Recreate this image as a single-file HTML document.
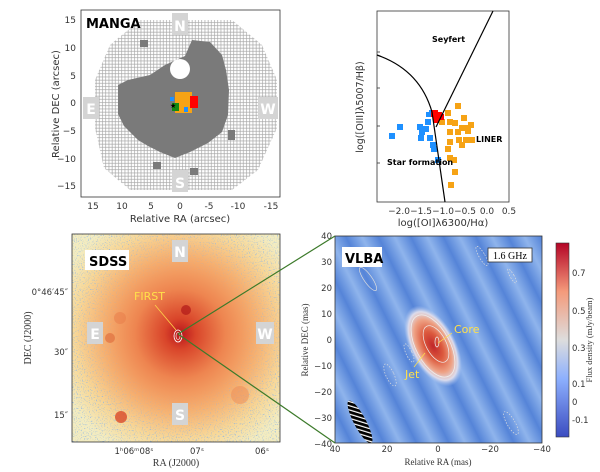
<!DOCTYPE html>
<html><head><meta charset="utf-8"><style>
body{margin:0;background:#fff;width:600px;height:472px;overflow:hidden}
svg{display:block}
text{font-family:"DejaVu Sans","Liberation Sans",sans-serif}
.serif{font-family:"Liberation Serif",serif}
</style></head><body>
<svg width="600" height="472" viewBox="0 0 600 472" xmlns="http://www.w3.org/2000/svg">
<defs>
<pattern id="grid" width="3.2" height="3.2" patternUnits="userSpaceOnUse">
<rect width="3.2" height="3.2" fill="#a8a8a8"/><rect x="0.5" y="0.5" width="2.5" height="2.5" fill="#fff"/>
</pattern>
<radialGradient id="gal" cx="0.52" cy="0.48" r="0.62">
<stop offset="0" stop-color="#b8141c"/><stop offset="0.12" stop-color="#d9452a"/>
<stop offset="0.35" stop-color="#ee8550"/><stop offset="0.6" stop-color="#f6b070"/>
<stop offset="0.82" stop-color="#f8d898"/><stop offset="1" stop-color="#f3ecc0"/>
</radialGradient>
<radialGradient id="edgeMask" cx="0.52" cy="0.48" r="0.65">
<stop offset="0.45" stop-color="#000"/><stop offset="0.8" stop-color="#fff"/><stop offset="1" stop-color="#fff"/>
</radialGradient>
<mask id="m3"><rect x="72" y="234" width="208" height="208" fill="url(#edgeMask)"/></mask>
<filter id="noise" x="0" y="0" width="1" height="1"><feTurbulence type="fractalNoise" baseFrequency="0.85" numOctaves="1" seed="3"/>
<feColorMatrix values="0 0 0 0 0.25  0 0 0 0 0.45  0 0 0 0 0.8  0 0 0 5 -2.9"/></filter>
<linearGradient id="stripes" x1="0" y1="0" x2="1" y2="-0.5" spreadMethod="repeat" gradientUnits="userSpaceOnUse" gradientTransform="scale(26)">
<stop offset="0" stop-color="#5584d8"/><stop offset="0.5" stop-color="#8fb4ec"/><stop offset="1" stop-color="#5584d8"/>
</linearGradient>
<radialGradient id="core" cx="0.5" cy="0.5" r="0.5">
<stop offset="0" stop-color="#c0262a"/><stop offset="0.35" stop-color="#dc5a3e"/>
<stop offset="0.65" stop-color="#eea285"/><stop offset="0.85" stop-color="#dcdcec"/><stop offset="1" stop-color="#a8c3f0" stop-opacity="0"/>
</radialGradient>
<linearGradient id="cbar" x1="0" y1="1" x2="0" y2="0">
<stop offset="0" stop-color="#3b4cc0"/><stop offset="0.3" stop-color="#8db0fe"/><stop offset="0.5" stop-color="#dddddd"/>
<stop offset="0.75" stop-color="#f49a7b"/><stop offset="1" stop-color="#b40426"/>
</linearGradient>
<pattern id="hatch" width="4" height="4" patternUnits="userSpaceOnUse" patternTransform="rotate(-45)">
<rect width="4" height="4" fill="#000"/><rect width="1.2" height="4" fill="#fff"/></pattern>
<clipPath id="c4"><rect x="335" y="236" width="207" height="207"/></clipPath>
</defs>

<!-- Panel 1 MANGA -->
<rect x="81" y="10" width="199" height="187" fill="#fff" stroke="#333" stroke-width="0.8"/>
<polygon points="140,20 232,20 262,45 277,80 277,128 258,170 232,190 130,190 104,168 95,128 95,80 110,45" fill="url(#grid)"/>
<path d="M118,85 L128,80 150,75 165,65 185,56 192,40 210,42 222,55 226,70 229,90 228,115 222,132 208,143 190,152 175,158 160,152 148,146 138,140 124,126 118,114Z" fill="#7a7a7a"/>
<rect x="140" y="40" width="8" height="7" fill="#7a7a7a"/><rect x="153" y="162" width="8" height="7" fill="#7a7a7a"/>
<rect x="190" y="168" width="8" height="7" fill="#7a7a7a"/><rect x="228" y="130" width="7" height="10" fill="#7a7a7a"/>
<circle cx="180" cy="69" r="10" fill="#fff"/>
<rect x="175" y="92" width="17" height="21" fill="#f6a315"/>
<rect x="190" y="96" width="8" height="12" fill="#f00"/>
<rect x="172" y="103" width="7" height="8" fill="#138a13"/>
<rect x="170" y="97" width="4" height="4" fill="#1e90ff"/><rect x="184" y="107" width="4" height="5" fill="#1e90ff"/>
<text x="170" y="108" font-size="7">★</text>
<g fill="#d4d4d4"><rect x="172" y="13" width="16" height="22"/><rect x="83" y="97" width="16" height="22"/><rect x="258" y="97" width="20" height="22"/><rect x="172" y="170" width="16" height="22"/></g>
<g fill="#fff" font-weight="bold" font-size="14" text-anchor="middle"><text x="180" y="31">N</text><text x="91" y="114">E</text><text x="268" y="114">W</text><text x="180" y="188">S</text></g>
<text x="86" y="28" font-size="13" font-weight="bold">MANGA</text>
<g font-size="9" fill="#333" text-anchor="end"><text x="76" y="23">15</text><text x="76" y="51">10</text><text x="76" y="79">5</text><text x="76" y="106">0</text><text x="76" y="134">−5</text><text x="76" y="162">−10</text><text x="76" y="189">−15</text></g>
<g font-size="9" fill="#333" text-anchor="middle"><text x="93" y="209">15</text><text x="122" y="209">10</text><text x="151" y="209">5</text><text x="180" y="209">0</text><text x="209" y="209">-5</text><text x="238" y="209">-10</text><text x="271" y="209">-15</text></g>
<text x="180" y="222" font-size="10" fill="#333" text-anchor="middle">Relative RA (arcsec)</text>
<text transform="translate(59,104) rotate(-90)" font-size="10" fill="#333" text-anchor="middle">Relative DEC (arcsec)</text>

<!-- Panel 2 BPT -->
<rect x="377" y="11" width="132" height="191" fill="#fff" stroke="#333" stroke-width="0.8"/>
<g fill="#1e90ff">
<rect x="389" y="133" width="6" height="6"/><rect x="397" y="124" width="6" height="6"/><rect x="417" y="124" width="6" height="6"/><rect x="419" y="129" width="6" height="6"/><rect x="423" y="126" width="6" height="6"/><rect x="418" y="135" width="6" height="6"/><rect x="425" y="119" width="6" height="6"/><rect x="429" y="110" width="6" height="6"/><rect x="427" y="135" width="6" height="6"/><rect x="430" y="142" width="6" height="6"/><rect x="431" y="146" width="6" height="6"/><rect x="435" y="157" width="6" height="6"/><rect x="426" y="112" width="5" height="5"/></g>
<g fill="#f6a315">
<rect x="445" y="110" width="6" height="6"/><rect x="455" y="103" width="6" height="6"/><rect x="447" y="119" width="6" height="6"/><rect x="447" y="129" width="6" height="6"/><rect x="447" y="139" width="6" height="6"/><rect x="447" y="155" width="6" height="6"/><rect x="452" y="120" width="6" height="6"/><rect x="455" y="129" width="6" height="6"/><rect x="456" y="137" width="6" height="6"/><rect x="459" y="125" width="6" height="6"/><rect x="461" y="115" width="6" height="6"/><rect x="463" y="137" width="6" height="6"/><rect x="459" y="142" width="6" height="6"/><rect x="465" y="128" width="6" height="6"/><rect x="468" y="122" width="6" height="6"/><rect x="469" y="137" width="6" height="6"/><rect x="463" y="125" width="6" height="6"/><rect x="451" y="157" width="6" height="6"/><rect x="452" y="169" width="6" height="6"/><rect x="448" y="182" width="6" height="6"/><rect x="439" y="119" width="6" height="6"/><rect x="445" y="146" width="6" height="6"/></g>
<g fill="#f00"><rect x="431" y="110" width="7" height="7"/><rect x="435" y="112" width="7" height="7"/><rect x="433" y="117" width="6" height="6"/><rect x="438" y="114" width="6" height="6"/></g>
<path d="M377,55 Q420,70 432,112 L445,202" fill="none" stroke="#000" stroke-width="1.2"/>
<path d="M436,127 L493,11" fill="none" stroke="#000" stroke-width="1.2"/>
<g font-size="8" font-weight="bold"><text x="432" y="42">Seyfert</text><text x="476" y="142">LINER</text><text x="387" y="165">Star formation</text></g>
<g font-size="9" fill="#333" text-anchor="middle"><text x="399" y="214">−2.0</text><text x="421" y="214">−1.5</text><text x="443" y="214">−1.0</text><text x="465" y="214">−0.5</text><text x="487" y="214">0.0</text><text x="509" y="214">0.5</text></g>
<text x="443" y="226" font-size="10" fill="#333" text-anchor="middle">log([OI]λ6300/Hα)</text>
<text transform="translate(363,107) rotate(-90)" font-size="9.5" fill="#333" text-anchor="middle">log([OIII]λ5007/Hβ)</text>
<g stroke="#333" stroke-width="0.8"><line x1="377" y1="52" x2="380" y2="52"/><line x1="377" y1="88" x2="380" y2="88"/><line x1="377" y1="126" x2="380" y2="126"/><line x1="377" y1="163" x2="380" y2="163"/></g>

<!-- Panel 3 SDSS -->
<rect x="72" y="234" width="208" height="208" fill="url(#gal)"/>
<g mask="url(#m3)"><rect x="72" y="234" width="208" height="208" filter="url(#noise)"/></g>
<circle cx="186" cy="310" r="5" fill="#b01818" opacity="0.7"/><circle cx="121" cy="417" r="6" fill="#d84a2a" opacity="0.8"/>
<circle cx="110" cy="338" r="5" fill="#e07040" opacity="0.7"/><circle cx="120" cy="318" r="6" fill="#e87a48" opacity="0.5"/>
<circle cx="240" cy="395" r="9" fill="#ec8a55" opacity="0.5"/>
<rect x="72" y="234" width="208" height="208" fill="none" stroke="#333" stroke-width="0.8"/>
<g fill="#d4d4d4"><rect x="172" y="240" width="16" height="22"/><rect x="87" y="322" width="16" height="22"/><rect x="256" y="322" width="18" height="22"/><rect x="172" y="403" width="16" height="22"/></g>
<g fill="#fff" font-weight="bold" font-size="14" text-anchor="middle"><text x="180" y="257">N</text><text x="95" y="339">E</text><text x="265" y="339">W</text><text x="180" y="420">S</text></g>
<rect x="85" y="250" width="44" height="20" fill="#fff"/>
<text x="89" y="266" font-size="13" font-weight="bold">SDSS</text>
<text x="134" y="300" font-size="11" fill="#ffe14a">FIRST</text>
<line x1="155" y1="305" x2="176" y2="330" stroke="#ffd34a" stroke-width="0.8"/>
<ellipse cx="178" cy="336" rx="4" ry="6" fill="none" stroke="#fff" stroke-width="0.8"/>
<ellipse cx="178" cy="336" rx="2" ry="3.5" fill="none" stroke="#fff" stroke-width="0.6"/>
<g class="serif" font-size="8.5" fill="#333" text-anchor="end"><text x="68" y="295">0°46′45″</text><text x="68" y="355">30″</text><text x="68" y="418">15″</text></g>
<g class="serif" font-size="8.5" fill="#333" text-anchor="middle"><text x="134" y="454">1ʰ06ᵐ08ˢ</text><text x="197" y="454">07ˢ</text><text x="262" y="454">06ˢ</text></g>
<text x="176" y="466" class="serif" font-size="10" fill="#333" text-anchor="middle">RA (J2000)</text>
<text transform="translate(31,338) rotate(-90)" class="serif" font-size="10" fill="#333" text-anchor="middle">DEC (J2000)</text>

<!-- Panel 4 VLBA -->
<g clip-path="url(#c4)">
<rect x="335" y="236" width="207" height="207" fill="url(#stripes)"/>
<ellipse cx="433" cy="346" rx="23" ry="44" transform="rotate(-28 433 346)" fill="url(#core)"/>
<ellipse cx="433" cy="346" rx="17" ry="34" transform="rotate(-28 433 346)" fill="none" stroke="#eee" stroke-width="0.8"/>
<ellipse cx="436" cy="344" rx="10" ry="20" transform="rotate(-28 436 344)" fill="none" stroke="#eee" stroke-width="0.7"/>
<ellipse cx="437" cy="342" rx="2" ry="5" fill="none" stroke="#eee" stroke-width="0.7"/>
<ellipse cx="368" cy="279" rx="4" ry="14" transform="rotate(-35 368 279)" fill="none" stroke="#ddd" stroke-width="0.7"/>
<ellipse cx="390" cy="375" rx="4" ry="12" transform="rotate(-25 390 375)" fill="none" stroke="#ddd" stroke-width="0.7" stroke-dasharray="1.5 1.5"/>
<ellipse cx="409" cy="353" rx="3" ry="10" transform="rotate(-25 409 353)" fill="none" stroke="#ddd" stroke-width="0.7" stroke-dasharray="1.5 1.5"/>
<ellipse cx="511" cy="423" rx="4" ry="13" transform="rotate(-30 511 423)" fill="none" stroke="#ddd" stroke-width="0.7" stroke-dasharray="1.5 1.5"/>
<ellipse cx="482" cy="256" rx="3" ry="11" transform="rotate(-30 482 256)" fill="none" stroke="#ddd" stroke-width="0.7" stroke-dasharray="1.5 1.5"/>
<ellipse cx="512" cy="276" rx="2" ry="8" transform="rotate(-30 512 276)" fill="none" stroke="#ddd" stroke-width="0.7" stroke-dasharray="1.5 1.5"/>
<ellipse cx="360" cy="422" rx="6" ry="24" transform="rotate(-28 360 422)" fill="url(#hatch)"/>
</g>
<rect x="335" y="236" width="207" height="207" fill="none" stroke="#333" stroke-width="0.8"/>
<rect x="342" y="247" width="40" height="20" fill="#fff"/>
<text x="345" y="263" font-size="13" font-weight="bold">VLBA</text>
<rect x="488" y="248" width="44" height="14" fill="#fff" stroke="#333" stroke-width="0.8"/>
<text x="510" y="259" class="serif" font-size="10" text-anchor="middle">1.6 GHz</text>
<text x="454" y="333" font-size="11" fill="#ffe14a">Core</text>
<line x1="452" y1="333" x2="438" y2="343" stroke="#ffe14a" stroke-width="0.7"/>
<text x="405" y="378" font-size="11" fill="#ffe14a">Jet</text>
<line x1="414" y1="367" x2="425" y2="353" stroke="#ffe14a" stroke-width="0.7"/>
<g class="serif" font-size="8.5" fill="#333" text-anchor="end"><text x="332" y="239">40</text><text x="332" y="265">30</text><text x="332" y="291">20</text><text x="332" y="317">10</text><text x="332" y="343">0</text><text x="332" y="369">−10</text><text x="332" y="395">−20</text><text x="332" y="421">−30</text><text x="332" y="447">−40</text></g>
<g class="serif" font-size="8.5" fill="#333" text-anchor="middle"><text x="335" y="452">40</text><text x="387" y="452">20</text><text x="438" y="452">0</text><text x="490" y="452">−20</text><text x="542" y="452">−40</text></g>
<text x="438" y="465" class="serif" font-size="9" fill="#333" text-anchor="middle">Relative RA (mas)</text>
<text transform="translate(308,340) rotate(-90)" class="serif" font-size="9" fill="#333" text-anchor="middle">Relative DEC (mas)</text>
<rect x="556" y="243" width="13" height="194" fill="url(#cbar)" stroke="#333" stroke-width="0.6"/>
<g class="serif" font-size="8.5" fill="#333"><text x="572" y="276">0.7</text><text x="572" y="314">0.5</text><text x="572" y="351">0.3</text><text x="572" y="387">0.1</text><text x="572" y="405">0</text><text x="572" y="423">-0.1</text></g>
<text transform="translate(592,340) rotate(-90)" class="serif" font-size="8.5" fill="#333" text-anchor="middle">Flux density (mJy/beam)</text>

<!-- connector lines -->
<line x1="178" y1="334" x2="335" y2="236" stroke="#3c7a2a" stroke-width="1.2"/>
<line x1="178" y1="334" x2="335" y2="443" stroke="#3c7a2a" stroke-width="1.2"/>
</svg>
</body></html>
